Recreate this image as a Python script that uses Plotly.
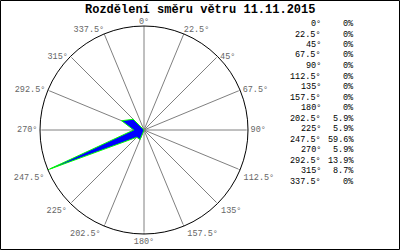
import plotly.graph_objects as go

title = "Rozdělení směru větru 11.11.2015"
directions = [0, 22.5, 45, 67.5, 90, 112.5, 135, 157.5, 180, 202.5, 225, 247.5, 270, 292.5, 315, 337.5]
dir_labels = ["0°", "22.5°", "45°", "67.5°", "90°", "112.5°", "135°", "157.5°", "180°",
              "202.5°", "225°", "247.5°", "270°", "292.5°", "315°", "337.5°"]
percent = [0, 0, 0, 0, 0, 0, 0, 0, 0, 5.9, 5.9, 59.6, 5.9, 13.9, 8.7, 0]
pct_labels = ["0%", "0%", "0%", "0%", "0%", "0%", "0%", "0%", "0%",
              "5.9%", "5.9%", "59.6%", "5.9%", "13.9%", "8.7%", "0%"]

# label placement style around the circle (one per direction)
label_pos = ["top center", "top right", "middle right", "middle right", "middle right",
             "bottom right", "bottom right", "bottom right", "bottom center",
             "bottom left", "bottom left", "bottom left", "middle left",
             "middle left", "middle left", "top left"]
# invisible marker sizes controlling label offset from the circle
label_pad = [0, 0, 2.5, 2.5, 2.5, 4, 4, 4, 4, 4, 4, 4, 2.5, 2.5, 2.5, 0]

W, H = 400, 250
MONO = "Liberation Mono, DejaVu Sans Mono, monospace"
rmax = max(percent)

fig = go.Figure()
fig.add_trace(go.Scatterpolar(
    r=percent + [percent[0]],
    theta=directions + [directions[0]],
    mode="lines",
    fill="toself",
    fillcolor="#0000ff",
    line=dict(color="#00ff00", width=1),
    hoverinfo="skip",
    showlegend=False,
))
fig.add_trace(go.Scatterpolar(
    r=[rmax] * len(directions),
    theta=directions,
    mode="markers+text",
    text=dir_labels,
    textposition=label_pos,
    textfont=dict(family=MONO, size=8.5, color="#666666"),
    marker=dict(size=label_pad, color="rgba(0,0,0,0)"),
    cliponaxis=False,
    hoverinfo="skip",
    showlegend=False,
))

fig.update_layout(
    width=W, height=H,
    margin=dict(l=0, r=0, t=0, b=0),
    paper_bgcolor="white",
    plot_bgcolor="white",
    showlegend=False,
    polar=dict(
        domain=dict(x=[40 / W, 248 / W], y=[(H - 234) / H, (H - 26) / H]),
        bgcolor="white",
        angularaxis=dict(
            rotation=90,
            direction="clockwise",
            tickmode="array",
            tickvals=directions,
            showticklabels=False,
            ticks="",
            showline=True,
            linecolor="black",
            linewidth=1,
            showgrid=True,
            gridcolor="#808080",
            gridwidth=1,
        ),
        radialaxis=dict(
            visible=False,
            range=[0, rmax],
            showgrid=False,
        ),
    ),
)

fig.add_annotation(
    text="<b>" + title + "</b>",
    xref="paper", yref="paper",
    x=200 / W, y=1 - 10 / H,
    xanchor="center", yanchor="middle",
    showarrow=False,
    font=dict(family=MONO, size=12, color="black"),
)

row0 = 24.0
step = 10.5
for i, (dl, pl) in enumerate(zip(dir_labels, pct_labels)):
    yc = 1 - (row0 + i * step) / H
    fig.add_annotation(text=dl, xref="paper", yref="paper",
                       x=323 / W, y=yc, xanchor="right", yanchor="middle",
                       showarrow=False,
                       font=dict(family=MONO, size=8.5, color="black"))
    fig.add_annotation(text=pl, xref="paper", yref="paper",
                       x=356 / W, y=yc, xanchor="right", yanchor="middle",
                       showarrow=False,
                       font=dict(family=MONO, size=8.5, color="black"))

fig.add_shape(type="rect", xref="paper", yref="paper",
              x0=0.5 / W, y0=0.5 / H, x1=1 - 0.5 / W, y1=1 - 0.5 / H,
              line=dict(color="black", width=1), fillcolor="rgba(0,0,0,0)")

fig.write_html("out.html")
